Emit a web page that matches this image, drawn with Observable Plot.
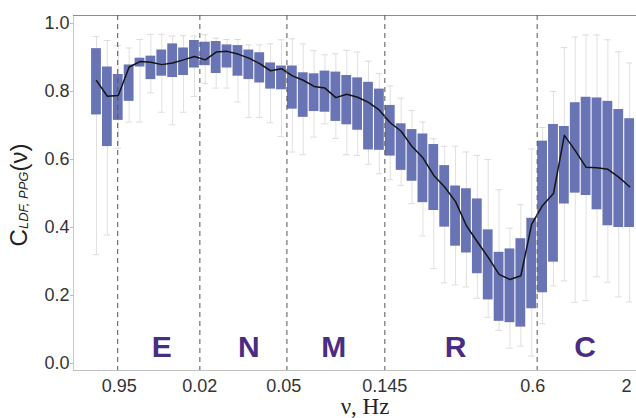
<!DOCTYPE html>
<html><head><meta charset="utf-8">
<script src="https://cdn.jsdelivr.net/npm/d3@7"></script>
<script src="https://cdn.jsdelivr.net/npm/@observablehq/plot@0.6"></script>
<style>html,body{margin:0;padding:0;background:#fff;overflow:hidden}</style>
</head><body><div id="chart"></div>
<script>
// 50 frequency bins (box index along the x axis)
const boxIndex = d3.range(1, 51);
const q3 = [0.926,0.872,0.850,0.878,0.898,0.904,0.922,0.940,0.928,0.950,
            0.945,0.947,0.937,0.935,0.922,0.914,0.884,0.875,0.875,0.855,
            0.852,0.860,0.857,0.847,0.840,0.827,0.807,0.759,0.705,0.688,
            0.675,0.644,0.582,0.522,0.514,0.484,0.393,0.327,0.337,0.367,
            0.427,0.654,0.703,0.697,0.767,0.783,0.781,0.771,0.747,0.720];
const q1 = [0.731,0.638,0.715,0.771,0.872,0.835,0.845,0.841,0.847,0.869,
            0.876,0.853,0.869,0.845,0.835,0.825,0.807,0.805,0.748,0.724,
            0.741,0.739,0.712,0.702,0.686,0.628,0.627,0.610,0.568,0.536,
            0.473,0.450,0.401,0.345,0.325,0.264,0.187,0.124,0.120,0.107,
            0.161,0.208,0.298,0.469,0.501,0.494,0.452,0.405,0.400,0.400];
const whiskerHigh = [0.962,0.950,0.935,0.928,0.953,0.968,0.968,0.963,0.964,0.963,
            0.967,0.957,0.953,0.953,0.937,0.937,0.940,0.952,0.955,0.940,
            0.920,0.908,0.911,0.921,0.916,0.889,0.853,0.816,0.780,0.744,
            0.710,0.661,0.639,0.639,0.622,0.612,0.600,0.511,0.398,0.467,
            0.631,0.694,0.800,0.929,0.960,0.966,0.966,0.952,0.917,0.884];
const whiskerLow = [0.320,0.378,0.633,0.710,0.710,0.796,0.739,0.702,0.739,0.785,
            0.823,0.810,0.810,0.769,0.724,0.724,0.708,0.668,0.622,0.614,
            0.666,0.705,0.662,0.614,0.612,0.586,0.558,0.540,0.524,0.470,
            0.375,0.279,0.237,0.231,0.225,0.192,0.136,0.097,0.045,0.051,
            0.022,0.117,0.228,0.243,0.180,0.185,0.255,0.239,0.196,0.181];
const centralLine = [0.832,0.786,0.788,0.872,0.888,0.886,0.879,0.884,0.893,0.903,
            0.893,0.916,0.918,0.910,0.898,0.882,0.861,0.867,0.846,0.833,
            0.815,0.810,0.782,0.792,0.783,0.768,0.745,0.708,0.683,0.638,
            0.605,0.553,0.519,0.476,0.405,0.358,0.312,0.262,0.247,0.258,
            0.410,0.465,0.500,0.671,0.626,0.577,0.576,0.571,0.548,0.520];

// x tick labels (frequency, Hz) and their positions along the bin index
const xTickLabels = ["0.95","0.02","0.05","0.145","0.6","2"];
const xTickPos = [3.1,10.5,18.2,27.5,41.1,49.7];
// dashed band boundaries (bin index)
const bandBounds = [2.95,10.5,18.5,27.5,41.5];
// band letters
const bandLetters = ["E","N","M","R","C"];
const bandLetterPos = [7.0,15.0,22.8,34.0,45.9];
const yTicks = [0,0.2,0.4,0.6,0.8,1.0];

const xDomain = [-1.114, 50.63];
const yDomain = [-0.0206, 1.0235];
const pxPerUnit = (636 - 73) / (xDomain[1] - xDomain[0]);

const data = boxIndex.map((i, k) => ({i, lo: whiskerLow[k], q1: q1[k], q3: q3[k], hi: whiskerHigh[k], c: centralLine[k]}));
const xt = xTickPos.map((p, k) => ({p, label: xTickLabels[k]}));
const bl = bandLetterPos.map((p, k) => ({p, label: bandLetters[k]}));

const plot = Plot.plot({
  width: 636, height: 418,
  marginLeft: 73, marginRight: 0, marginTop: 15, marginBottom: 48,
  style: {fontFamily: "'Liberation Sans', Arial, sans-serif", background: "#fff", overflow: "visible"},
  x: {domain: xDomain, axis: null},
  y: {domain: yDomain, axis: null},
  marks: [
    Plot.ruleX([xDomain[0]], {stroke: "#c8c8c8"}),
    Plot.ruleY([yDomain[0]], {stroke: "#c0c0c0"}),
    Plot.ruleY([yDomain[1]], {stroke: "#8c8c8c"}),
    Plot.ruleY(yTicks, {y: d => d, x1: xDomain[0] - 3 / pxPerUnit, x2: xDomain[0], stroke: "#bbb"}),
    Plot.text(yTicks, {x: xDomain[0], y: d => d, text: d => d3.format(".1f")(d), textAnchor: "end", dx: -4, fontSize: 18, fill: "#333", lineAnchor: "middle"}),
    Plot.text(xt, {x: "p", y: yDomain[0], text: "label", fontSize: 18, fill: "#333", lineAnchor: "bottom", dy: 21}),
    Plot.ruleX(data, {x: "i", y1: "lo", y2: "hi", stroke: "#e0e0e0", strokeWidth: 1}),
    Plot.ruleY(data, {y: "hi", x1: d => d.i - 0.3, x2: d => d.i + 0.3, stroke: "#dcdcdc"}),
    Plot.ruleY(data, {y: "lo", x1: d => d.i - 0.3, x2: d => d.i + 0.3, stroke: "#dcdcdc"}),
    Plot.rect(data, {x1: d => d.i - 0.45, x2: d => d.i + 0.45, y1: "q1", y2: "q3", fill: "#6874b4"}),
    Plot.line(data, {x: "i", y: "c", stroke: "#141414", strokeWidth: 1.5}),
    Plot.ruleX(bandBounds, {stroke: "#555", strokeDasharray: "5,4", strokeWidth: 1}),
    Plot.text(bl, {x: "p", y: 0.019, text: "label", fontSize: 30, fontWeight: "bold", fill: "#4b2c83", lineAnchor: "bottom"})
  ]
});

const svg = d3.select(plot);
const yl = svg.append("text")
  .attr("transform", "translate(27,195) rotate(-90)")
  .attr("text-anchor", "middle")
  .attr("font-family", "'Liberation Sans', Arial, sans-serif")
  .attr("fill", "#222");
yl.append("tspan").attr("font-size", 24).text("C");
yl.append("tspan").attr("font-size", 13).attr("font-style", "italic").attr("dy", 1).text("LDF, PPG");
yl.append("tspan").attr("font-size", 24).attr("dy", -1).text("(ν)");
svg.append("text")
  .attr("x", 365).attr("y", 414)
  .attr("text-anchor", "middle")
  .attr("font-family", "'Liberation Serif', 'Times New Roman', serif")
  .attr("font-size", 23)
  .attr("fill", "#222")
  .text("ν, Hz");

document.getElementById("chart").appendChild(plot);
</script>
</body></html>
